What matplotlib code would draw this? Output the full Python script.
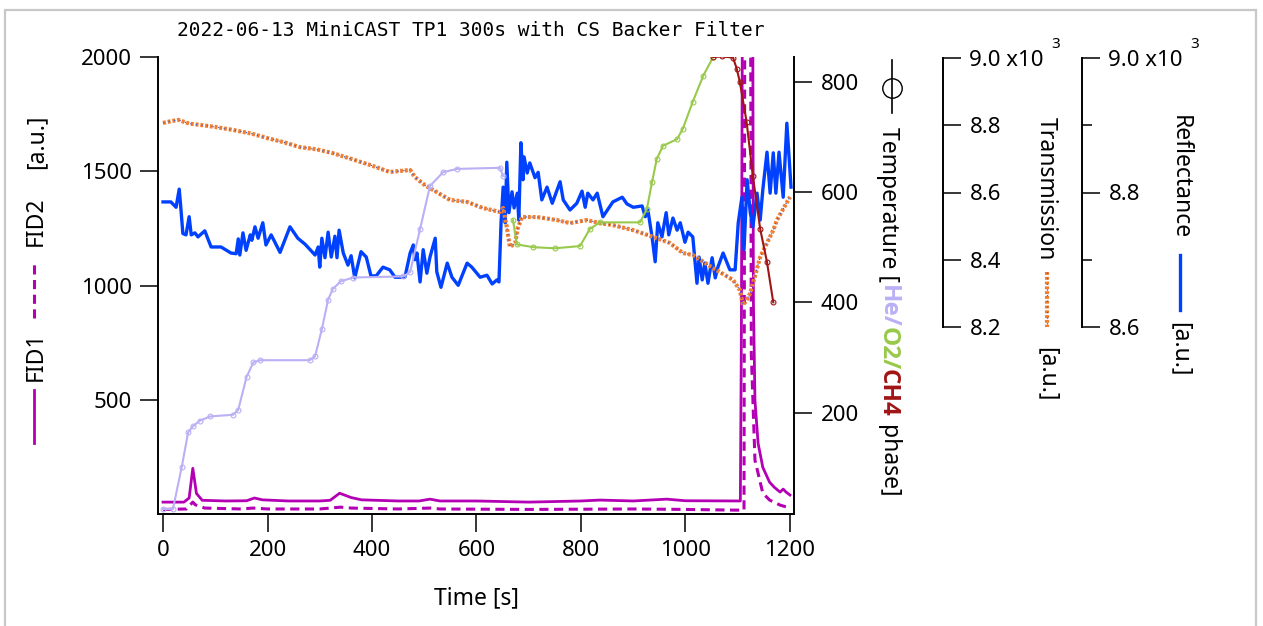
import matplotlib
matplotlib.use('Agg')
import matplotlib.pyplot as plt
from matplotlib.lines import Line2D
from matplotlib.patches import Rectangle

# ---- data ----
title = '2022-06-13 MiniCAST TP1 300s with CS Backer Filter'

fid1_t = [0, 40, 50, 57, 64, 75, 120, 160, 175, 190, 240, 300, 320, 338, 360, 380, 450,
          490, 511, 530, 600, 700, 800, 836, 900, 964, 1000, 1105, 1107, 1110, 1128, 1130,
          1133, 1139, 1148, 1161, 1170, 1181, 1187, 1193, 1200]
fid1 = [52, 52, 70, 200, 90, 60, 57, 58, 70, 62, 57, 57, 60, 91, 72, 62, 57,
        57, 65, 57, 57, 52, 57, 61, 57, 65, 58, 57, 800, 3000, 3000, 930,
        496, 309, 204, 139, 117, 96, 109, 95, 83]

fid2_t = [0, 45, 52, 57, 62, 80, 150, 172, 200, 300, 330, 340, 360, 450, 511, 530, 700,
          900, 1000, 1095, 1112, 1114, 1124, 1126, 1133, 1139, 1148, 1161, 1181, 1200]
fid2 = [20, 22, 40, 52, 40, 26, 22, 26, 22, 22, 28, 30, 26, 22, 26, 22, 20,
        22, 20, 17, 17, 3000, 3000, 700, 235, 178, 91, 61, 39, 26]

he_t = [0, 19, 36, 48, 57, 70, 90, 134, 144, 160, 173, 186, 281, 291, 304, 316, 325, 340,
        364, 460, 473, 492, 511, 536, 563, 645, 651]
he_T = [25, 25, 102, 164, 175, 185, 193, 196, 205, 265, 291, 295, 295, 302, 351, 405, 424, 438,
        445, 447, 455, 533, 611, 636, 642, 644, 629]

o2_t = [670, 677, 709, 750, 798, 817, 836, 913, 926, 936, 945, 957, 984, 995, 1014, 1034, 1053]
o2_T = [549, 505, 500, 498, 502, 533, 545, 545, 569, 618, 660, 684, 696, 715, 764, 811, 845]

ch4_t = [1053, 1070, 1091, 1098, 1104, 1117, 1129, 1143, 1156, 1168]
ch4_T = [845, 846, 844, 824, 800, 727, 629, 533, 473, 400]

tr_t = [0, 15, 29, 50, 71, 100, 134, 170, 199, 230, 262, 295, 325, 360, 396, 434, 473, 482,
        501, 524, 549, 582, 612, 645, 651, 658, 664, 674, 679, 687, 716, 754, 779, 811, 836,
        861, 900, 938, 970, 995, 1014, 1053, 1091, 1104, 1110, 1117, 1124, 1143, 1156, 1168,
        1175, 1200]
tr = [8807, 8812, 8816, 8805, 8801, 8795, 8786, 8775, 8762, 8750, 8735, 8728, 8717, 8700, 8682,
      8661, 8667, 8646, 8622, 8601, 8578, 8572, 8554, 8542, 8554, 8497, 8438, 8450, 8494, 8527,
      8527, 8518, 8509, 8518, 8509, 8503, 8488, 8468, 8450, 8420, 8414, 8375, 8340, 8310, 8265,
      8280, 8301, 8408, 8450, 8488, 8518, 8587]

rf_t = [0, 15, 25, 31, 34, 38, 44, 50, 54, 61, 67, 80, 92, 111, 130, 140, 144, 147, 153, 159,
        167, 170, 176, 182, 191, 197, 207, 224, 243, 258, 272, 291, 297, 300, 304, 310, 316,
        322, 329, 333, 337, 345, 354, 360, 367, 379, 389, 398, 408, 421, 434, 444, 463, 473,
        479, 482, 486, 492, 498, 505, 511, 521, 524, 532, 544, 553, 565, 582, 591, 607, 620,
        630, 639, 643, 647, 651, 655, 658, 662, 668, 672, 678, 681, 685, 689, 691, 697, 702,
        712, 718, 725, 735, 745, 760, 766, 779, 792, 802, 808, 813, 823, 831, 842, 861, 879,
        888, 900, 917, 923, 928, 936, 942, 947, 955, 963, 968, 976, 984, 990, 999, 1005, 1014,
        1022, 1026, 1032, 1037, 1043, 1051, 1057, 1062, 1072, 1085, 1095, 1101, 1108, 1112,
        1118, 1124, 1129, 1137, 1143, 1148, 1156, 1162, 1168, 1173, 1179, 1187, 1194, 1202]
rf = [8786, 8786, 8778, 8805, 8778, 8739, 8737, 8764, 8737, 8740, 8734, 8743, 8719, 8719, 8710,
      8709, 8731, 8707, 8740, 8714, 8737, 8729, 8749, 8732, 8755, 8722, 8737, 8711, 8749, 8732,
      8723, 8707, 8719, 8689, 8732, 8703, 8741, 8704, 8735, 8703, 8744, 8710, 8692, 8706, 8673,
      8712, 8704, 8676, 8676, 8689, 8685, 8674, 8674, 8710, 8722, 8700, 8710, 8667, 8715, 8680,
      8704, 8732, 8682, 8659, 8695, 8674, 8662, 8695, 8689, 8674, 8677, 8664, 8670, 8667, 8755,
      8808, 8755, 8845, 8770, 8801, 8777, 8799, 8759, 8874, 8819, 8853, 8829, 8844, 8822, 8830,
      8789, 8808, 8784, 8816, 8789, 8774, 8784, 8802, 8778, 8799, 8789, 8799, 8764, 8786, 8793,
      8783, 8778, 8780, 8764, 8774, 8734, 8697, 8755, 8734, 8770, 8737, 8762, 8744, 8755, 8726,
      8741, 8734, 8665, 8704, 8670, 8695, 8665, 8703, 8673, 8689, 8710, 8685, 8685, 8755, 8793,
      8715, 8819, 8770, 8749, 8799, 8759, 8804, 8860, 8799, 8859, 8799, 8860, 8793, 8903, 8808]

x_ticks = [0, 200, 400, 600, 800, 1000, 1200]
fid_ticks = [500, 1000, 1500, 2000]
temp_ticks = [200, 400, 600, 800]
tr_ticks = [8200, 8400, 8600, 8800, 9000]
tr_labels = ['8.2', '8.4', '8.6', '8.8', '9.0 x10']
rf_ticks = [8600, 8800, 9000]
rf_minor = [8700, 8900]
rf_labels = ['8.6', '8.8', '9.0 x10']

# ---- style ----
MAG = '#b400b4'
HE = '#b9b0f5'
O2 = '#98c94a'
CH4 = '#a01414'
ORANGE = '#f07f32'
BLUE = '#0041ff'
FS = 16

W, H = 1263, 626
plt.rcParams['font.family'] = ['Noto Sans', 'DejaVu Sans']
fig = plt.figure(figsize=(W / 100, H / 100), dpi=100)


def fx(px):
    return px / W


def fy(py):
    return 1 - py / H


# plot area in pixels
L, R, T, B = 158, 794, 57, 514


def span(v_lo, v_hi, p_lo, p_hi):
    # y limits so that v_lo sits at pixel p_lo and v_hi at p_hi
    k = (v_hi - v_lo) / (p_lo - p_hi)
    return v_lo - (B - p_lo) * k, v_hi + (p_hi - T) * k


tick_kw = dict(direction='out', length=13, width=1.1, labelsize=FS, pad=6)

ax = fig.add_axes([fx(L), fy(B), fx(R) - fx(L), fy(T) - fy(B)])
ax.set_xlim(-9.6, 1207.7)
ax.set_ylim(0, 2000)
ax.plot(fid1_t, fid1, color=MAG, lw=2)
ax.plot(fid2_t, fid2, color=MAG, lw=2.2, dashes=(3, 1.8))
ax.set_xticks(x_ticks)
ax.set_yticks(fid_ticks)
ax.tick_params(**tick_kw)
for s in ['top', 'right']:
    ax.spines[s].set_visible(False)
for s in ['left', 'bottom']:
    ax.spines[s].set_linewidth(1.4)

# reflectance data
axr = ax.twinx()
axr.set_ylim(*span(8600, 9000, 327, 58))
axr.plot(rf_t, rf, color=BLUE, lw=2.4)
axr.set_axis_off()

# transmission data
axt = ax.twinx()
axt.set_ylim(*span(8200, 9000, 327, 58))
axt.plot(tr_t, tr, color=ORANGE, lw=3, dashes=(0.7, 0.45))
axt.plot(tr_t, tr, color='#4a5cc8', lw=0.9, dashes=(1, 3.5))
axt.set_axis_off()

# temperature phases
axT = ax.twinx()
axT.set_ylim(16, 845)
mk = dict(marker='o', ms=3.5, mfc='none', mew=0.8, lw=1.5)
axT.plot(he_t, he_T, color=HE, **mk)
axT.plot(o2_t, o2_T, color=O2, **mk)
axT.plot(ch4_t, ch4_T, color=CH4, **mk)
axT.set_yticks(temp_ticks)
axT.tick_params(**tick_kw)
for s in ['top', 'left', 'bottom']:
    axT.spines[s].set_visible(False)
axT.spines['right'].set_linewidth(1.4)


def spine_axis(xpx, ticks, labels, minor=None):
    a = fig.add_axes([fx(xpx) - 0.01, fy(327), 0.01, fy(58) - fy(327)])
    a.patch.set_visible(False)
    for s in ['left', 'top', 'bottom']:
        a.spines[s].set_visible(False)
    a.spines['right'].set_linewidth(1.4)
    a.set_xticks([])
    a.yaxis.tick_right()
    a.set_ylim(ticks[0], ticks[-1])
    a.set_yticks(ticks)
    a.set_yticklabels(labels)
    a.tick_params(**tick_kw)
    if minor:
        a.set_yticks(minor, minor=True)
        a.tick_params(which='minor', direction='out', length=7, width=1.1)
    return a


spine_axis(943, tr_ticks, tr_labels)
spine_axis(1082, rf_ticks, rf_labels, rf_minor)
fig.text(fx(1056), fy(44), '3', fontsize=11, ha='center', va='center')
fig.text(fx(1195), fy(44), '3', fontsize=11, ha='center', va='center')

# title, x label, frame
fig.text(fx(471), fy(30), title, family='DejaVu Sans Mono', fontsize=14,
         ha='center', va='center')
fig.text(fx(476), fy(598), 'Time [s]', fontsize=16.5, ha='center', va='center')
fig.add_artist(Rectangle((fx(5), -0.05), fx(1256) - fx(5), fy(10) + 0.05,
                         transform=fig.transFigure, fill=False,
                         edgecolor='#c8c8c8', lw=1.6))

# rotated axis labels with inline legend keys
renderer = fig.canvas.get_renderer()


def vlabel(x, y, pieces, rot):
    # pieces are (text, colour, bold, gap before)
    step = 1 if rot == 270 else -1
    for s, c, bold, gap in pieces:
        y += step * gap
        kw = dict(family='Open Sans', fontweight='bold', fontsize=17.5) if bold \
            else dict(fontsize=16.5)
        t = fig.text(fx(x), fy(y), s, rotation=rot, rotation_mode='anchor',
                     ha='left', va='baseline', color=c, **kw)
        y += step * t.get_window_extent(renderer).height


vlabel(882, 127, [('Temperature [', 'black', False, 0),
                  ('He/', HE, True, 3),
                  ('O2/', O2, True, -1),
                  ('CH4', CH4, True, -1),
                  ('phase]', 'black', False, 8)], 270)
fig.add_artist(Line2D([fx(892)] * 2, [fy(60), fy(113)], color='black', lw=1.2))
fig.add_artist(Line2D([fx(892)], [fy(88)], marker='o', ms=14, mfc='none',
                      mec='black', mew=1))

vlabel(1040, 117, [('Transmission', 'black', False, 0)], 270)
vlabel(1041, 347, [('[a.u.]', 'black', False, 0)], 270)
fig.add_artist(Line2D([fx(1047)] * 2, [fy(272), fy(327)], color=ORANGE, lw=3,
                      dashes=(0.7, 0.45)))
fig.add_artist(Line2D([fx(1047)] * 2, [fy(272), fy(327)], color='#4a5cc8', lw=0.9,
                      dashes=(1, 3.5)))

vlabel(1174, 115, [('Reflectance', 'black', False, 0)], 270)
vlabel(1174, 322, [('[a.u.]', 'black', False, 0)], 270)
fig.add_artist(Line2D([fx(1180)] * 2, [fy(255), fy(310)], color=BLUE, lw=2.4))

vlabel(42, 381, [('FID1', 'black', False, 0)], 90)
vlabel(42, 246, [('FID2', 'black', False, 0)], 90)
vlabel(42, 169, [('[a.u.]', 'black', False, 0)], 90)
fig.add_artist(Line2D([fx(34)] * 2, [fy(443), fy(390)], color=MAG, lw=2))
fig.add_artist(Line2D([fx(34)] * 2, [fy(318), fy(263)], color=MAG, lw=2.2,
                      dashes=(3, 1.8)))

fig.savefig('out.png', dpi=100)
